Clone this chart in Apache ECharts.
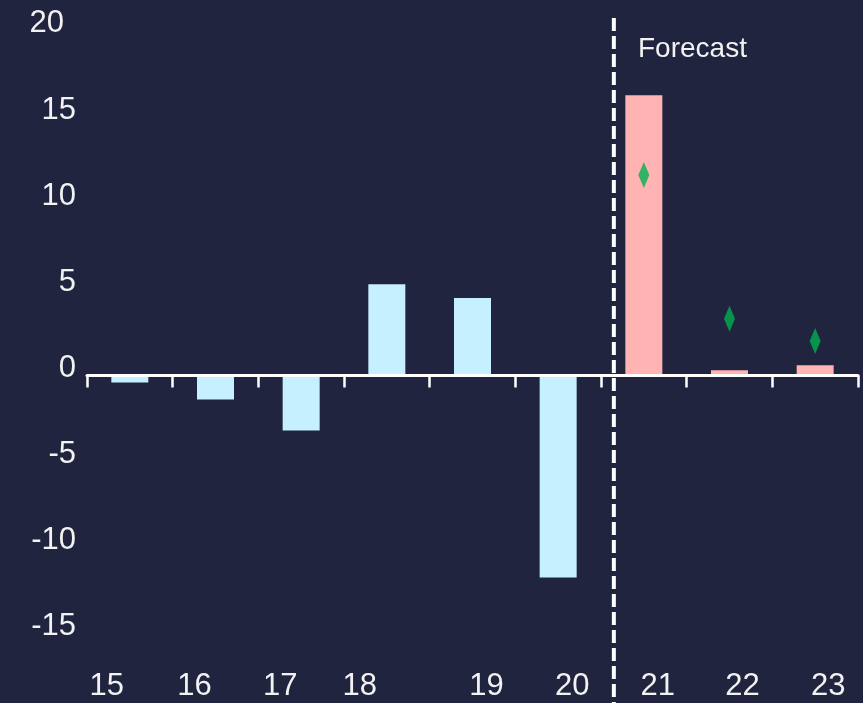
<!DOCTYPE html>
<html>
<head>
<meta charset="utf-8">
<script src="https://cdn.jsdelivr.net/npm/echarts@6/dist/echarts.min.js"></script>
<style>
  html, body { margin: 0; padding: 0; background: #20243e; }
  #chart { width: 863px; height: 703px; }
</style>
</head>
<body>
<div id="chart"></div>
<script>
// data
const years = ['15', '16', '17', '18', '19', '20', '21', '22', '23'];
const actual = [-0.4, -1.4, -3.2, 5.3, 4.5, -11.75, '-', '-', '-'];
const forecast = ['-', '-', '-', '-', '-', '-', 16.3, 0.3, 0.6];
const consensus = ['-', '-', '-', '-', '-', '-', 11.65, 3.3, 2.0];
const yMin = -20, yMax = 20, yStep = 5;
const forecastStart = 6.15; // on a 0..9 scale across the categories

// bottom label nudges (px), the original labels are not centred
const labelShift = [-23, -21, -21, -27, 14, 14, 14, 13, 13];

const FONT = '"Liberation Sans", Arial, sans-serif';
const TXT = '#f2f2f2';

const rich = {};
labelShift.forEach((d, i) => {
  rich['s' + i] = {
    fontFamily: FONT, fontSize: 31, color: TXT,
    padding: d < 0 ? [0, -2 * d, 0, 0] : [0, 0, 0, 2 * d]
  };
});

const chart = echarts.init(document.getElementById('chart'));

const option = {
  backgroundColor: '#20243e',
  animation: false,
  title: {
    text: 'Forecast',
    left: 638, top: 35, padding: 0,
    textStyle: { fontFamily: FONT, fontSize: 28, fontWeight: 'normal', color: TXT }
  },
  grid: [
    { left: 87, right: 5, top: 31.5, height: 688, outerBoundsMode: 'none', containLabel: false },
    { left: 87, right: 5, top: 18, bottom: 0, outerBoundsMode: 'none', containLabel: false }
  ],
  xAxis: [
    {
      type: 'category', gridIndex: 0, data: years, z: 5,
      axisLine: { onZero: true, lineStyle: { color: '#ffffff', width: 3 } },
      axisTick: { show: true, interval: 0, length: 12, lineStyle: { color: '#ffffff', width: 2.5 } },
      axisLabel: { show: false },
      splitLine: { show: false }
    },
    {
      type: 'category', gridIndex: 1, data: years, position: 'bottom',
      axisLine: { show: false }, axisTick: { show: false }, splitLine: { show: false },
      axisLabel: {
        inside: true, interval: 0, margin: 17, verticalAlign: 'middle',
        formatter: (v, i) => '{s' + i + '|' + v + '}',
        rich: rich
      }
    },
    {
      type: 'value', gridIndex: 1, min: 0, max: 9, show: false
    }
  ],
  yAxis: [
    {
      type: 'value', gridIndex: 0, min: yMin, max: yMax, interval: yStep,
      axisLine: { show: false }, axisTick: { show: false }, splitLine: { show: false },
      axisLabel: {
        showMinLabel: false, margin: 11,
        formatter: v => (v === yMax ? '{top|' : '{a|') + v + '}',
        rich: {
          a: { fontFamily: FONT, fontSize: 31, color: TXT, padding: [0, 0, 14, 0] },
          top: { fontFamily: FONT, fontSize: 31, color: TXT, padding: [0, 12, 16, 0] }
        }
      }
    },
    { type: 'value', gridIndex: 1, min: 0, max: 1, show: false }
  ],
  series: [
    {
      type: 'bar', xAxisIndex: 0, yAxisIndex: 0, data: actual,
      barWidth: 37, barGap: '-100%',
      itemStyle: { color: '#c6efff' }
    },
    {
      type: 'bar', xAxisIndex: 0, yAxisIndex: 0, data: forecast,
      barWidth: 37, barGap: '-100%',
      itemStyle: { color: '#ffb3b3' }
    },
    {
      type: 'scatter', xAxisIndex: 0, yAxisIndex: 0, data: consensus,
      symbol: 'diamond', symbolSize: [11, 26], z: 6,
      itemStyle: { color: '#00b050' }
    },
    {
      type: 'line', xAxisIndex: 2, yAxisIndex: 1,
      data: [[forecastStart, 1], [forecastStart, 0]],
      symbol: 'none', z: 7,
      lineStyle: { color: '#ffffff', width: 4, type: [13, 5], cap: 'butt' }
    }
  ]
};

chart.setOption(option);
</script>
</body>
</html>
